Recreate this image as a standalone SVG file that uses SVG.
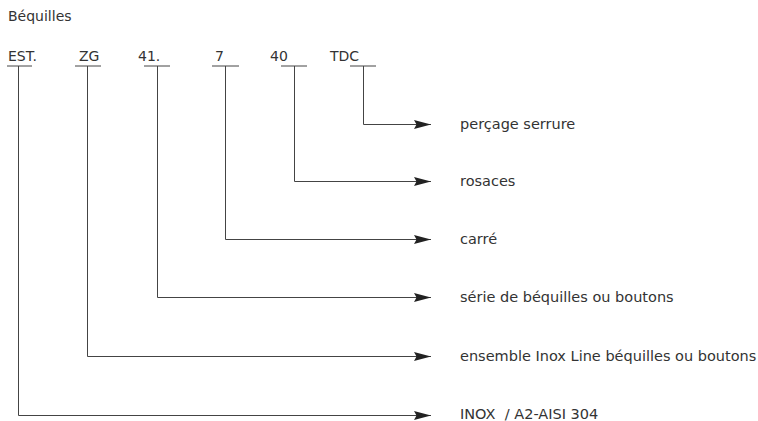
<svg xmlns="http://www.w3.org/2000/svg" width="758" height="421" viewBox="0 0 758 421">
<style>
text{font-family:"DejaVu Sans","Liberation Sans",sans-serif;fill:#333;white-space:pre}
.code{font-size:14px}
.lbl{font-size:14.5px}
.ln{fill:none;stroke:#444;stroke-width:1}
</style>
<defs>
<marker id="arr" viewBox="0 0 17 9" refX="17" refY="4.5" markerWidth="17" markerHeight="9" markerUnits="userSpaceOnUse" orient="auto">
<path d="M0,0 L17,4.5 L0,9 L2.5,4.5 Z" fill="#222"/>
</marker>
</defs>
<rect width="758" height="421" fill="#fff"/>
<text class="code" x="8" y="21">Béquilles</text>
<g id="n-est"><text class="code" x="8" y="61">EST.</text><line class="ln" x1="7" y1="66" x2="32" y2="66"/></g>
<g id="n-zg"><text class="code" x="79" y="61">ZG</text><line class="ln" x1="75" y1="66" x2="101" y2="66"/></g>
<g id="n-41"><text class="code" x="138" y="61">41.</text><line class="ln" x1="144" y1="66" x2="170" y2="66"/></g>
<g id="n-7"><text class="code" x="215" y="61">7</text><line class="ln" x1="212" y1="66" x2="239" y2="66"/></g>
<g id="n-40"><text class="code" x="270" y="61">40</text><line class="ln" x1="281" y1="66" x2="307" y2="66"/></g>
<g id="n-tdc"><text class="code" x="330" y="61">TDC</text><line class="ln" x1="350" y1="66" x2="376" y2="66"/></g>
<g id="connectors">
<polyline class="ln" points="363.5,66 363.5,124.5 431,124.5" marker-end="url(#arr)"/>
<polyline class="ln" points="294.5,66 294.5,181.5 431,181.5" marker-end="url(#arr)"/>
<polyline class="ln" points="225.5,66 225.5,239.5 431,239.5" marker-end="url(#arr)"/>
<polyline class="ln" points="157.5,66 157.5,297.5 431,297.5" marker-end="url(#arr)"/>
<polyline class="ln" points="87.5,66 87.5,356.5 431,356.5" marker-end="url(#arr)"/>
<polyline class="ln" points="18.5,66 18.5,415.5 431,415.5" marker-end="url(#arr)"/>
</g>
<g id="l-percage"><text class="lbl" x="460" y="129">perçage serrure</text></g>
<g id="l-rosaces"><text class="lbl" x="460" y="186">rosaces</text></g>
<g id="l-carre"><text class="lbl" x="460" y="244">carré</text></g>
<g id="l-serie"><text class="lbl" x="460" y="302">série de béquilles ou boutons</text></g>
<g id="l-ensemble"><text class="lbl" x="460" y="361">ensemble Inox Line béquilles ou boutons</text></g>
<g id="l-inox"><text class="lbl" x="460" y="419">INOX  / A2-AISI 304</text></g>
</svg>
